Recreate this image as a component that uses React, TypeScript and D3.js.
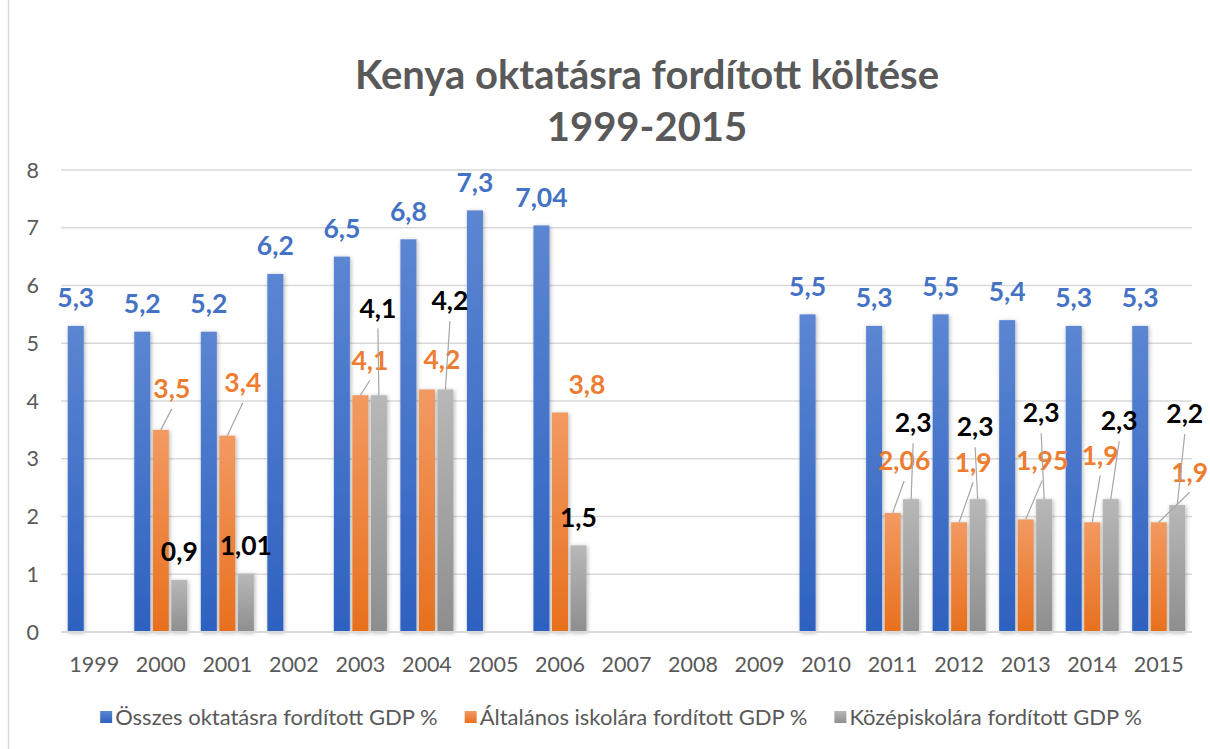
import React, { useEffect, useRef } from "react";
import * as d3 from "d3";

// years on the x axis
const years = ["1999", "2000", "2001", "2002", "2003", "2004", "2005", "2006", "2007", "2008", "2009", "2010", "2011", "2012", "2013", "2014", "2015"];

// GDP % values (null = no data)
const totalGdp = [5.3, 5.2, 5.2, 6.2, 6.5, 6.8, 7.3, 7.04, null, null, null, 5.5, 5.3, 5.5, 5.4, 5.3, 5.3];
const primaryGdp = [null, 3.5, 3.4, null, 4.1, 4.2, null, 3.8, null, null, null, null, 2.06, 1.9, 1.95, 1.9, 1.9];
const secondaryGdp = [null, 0.9, 1.01, null, 4.1, 4.2, null, 1.5, null, null, null, null, 2.3, 2.3, 2.3, 2.3, 2.2];

const seriesNames = ["Összes oktatásra fordított GDP %", "Általános iskolára fordított GDP %", "Középiskolára fordított GDP %"];
const yTicks = [0, 1, 2, 3, 4, 5, 6, 7, 8];

// hand-moved data labels: [dx, dy, leader line] in px from the bar top
const primaryLabelMoves = [null, [11, -41, 1], [15.5, -53, 1], null, [9.5, -35, 1], [15, -29.5, 0], null, [27, -27.5, 0], null, null, null, null, [11.5, -52, 1], [14, -60, 1], [16.5, -59, 1], [8, -67, 1], [31, -50, 1]];
const secondaryLabelMoves = [null, null, null, null, [-1, -87, 1], [4.5, -88.5, 1], null, null, null, null, null, null, [2, -76, 1], [-2.5, -72, 1], [-3, -86, 1], [8.5, -78, 1], [7.5, -91, 1]];

const W = 1210;
const H = 749;
const FONT = "Lato, 'Open Sans', sans-serif";

const App = () => {
    const ref = useRef(null);

    useEffect(() => {
        const svg = d3.select(ref.current);
        svg.selectAll("*").remove();

        const dims = { left: 61, right: 1192, top: 170, bottom: 632 };

        const series = [
            { values: totalGdp, moves: [], grad: ["#5b86d2", "#2e61c0"], labelColor: "#4472C4" },
            { values: primaryGdp, moves: primaryLabelMoves, grad: ["#f29a62", "#e8701d"], labelColor: "#ED7D31" },
            { values: secondaryGdp, moves: secondaryLabelMoves, grad: ["#b8b8b8", "#8e8e8e"], labelColor: "#000000" }
        ];

        const defs = svg.append("defs");
        series.forEach((s, k) => {
            const g = defs.append("linearGradient")
                .attr("id", "grad" + k)
                .attr("x1", 0).attr("y1", 0).attr("x2", 0).attr("y2", 1);
            g.append("stop").attr("offset", "0%").attr("stop-color", s.grad[0]);
            g.append("stop").attr("offset", "100%").attr("stop-color", s.grad[1]);
        });
        const shadow = defs.append("filter").attr("id", "shadow")
            .attr("x", "-50%").attr("y", "-10%").attr("width", "200%").attr("height", "120%");
        shadow.append("feDropShadow")
            .attr("dx", 1).attr("dy", 1).attr("stdDeviation", 2)
            .attr("flood-color", "#000").attr("flood-opacity", 0.3);

        svg.append("rect").attr("width", W).attr("height", H).attr("fill", "#fff");
        // chart frame edge
        svg.append("line")
            .attr("x1", 8.5).attr("x2", 8.5).attr("y1", 0).attr("y2", H)
            .attr("stroke", "#d9d9d9").attr("stroke-width", 1.5);

        const yScale = d3.scaleLinear().domain([0, 8]).range([dims.bottom, dims.top]);

        const x0 = d3.scaleBand()
            .domain(years)
            .range([dims.left, dims.right])
            .paddingInner(0.203)
            .paddingOuter(0.1015);

        const x1 = d3.scaleBand()
            .domain(["0", "1", "2"])
            .range([0, x0.bandwidth()])
            .paddingInner(0.135);

        // gridlines
        svg.append("g")
            .selectAll("line")
            .data(yTicks.filter(t => t > 0))
            .join("line")
            .attr("x1", dims.left).attr("x2", dims.right)
            .attr("y1", d => yScale(d)).attr("y2", d => yScale(d))
            .attr("stroke", "#d9d9d9").attr("stroke-width", 1.3);

        // y tick labels
        svg.append("g")
            .selectAll("text")
            .data(yTicks)
            .join("text")
            .attr("x", 39)
            .attr("y", d => yScale(d))
            .attr("dy", "0.35em")
            .attr("text-anchor", "end")
            .attr("font-family", FONT)
            .attr("font-size", 21.5)
            .attr("fill", "#595959")
            .text(d => d);

        // x tick labels
        svg.append("g")
            .selectAll("text")
            .data(years)
            .join("text")
            .attr("x", d => x0(d) + x0.bandwidth() / 2)
            .attr("y", 664)
            .attr("dy", "0.35em")
            .attr("text-anchor", "middle")
            .attr("font-family", FONT)
            .attr("font-size", 21.5)
            .attr("fill", "#595959")
            .text(d => d);

        // bars
        series.forEach((s, k) => {
            svg.append("g")
                .selectAll("rect")
                .data(years.map((yr, i) => ({ yr, v: s.values[i] })).filter(d => d.v !== null))
                .join("rect")
                .attr("x", d => x0(d.yr) + x1(String(k)))
                .attr("y", d => yScale(d.v))
                .attr("width", x1.bandwidth())
                .attr("height", d => yScale(0) - yScale(d.v))
                .attr("fill", `url(#grad${k})`)
                .attr("filter", "url(#shadow)");
        });

        // axis line
        svg.append("line")
            .attr("x1", dims.left).attr("x2", dims.right)
            .attr("y1", yScale(0)).attr("y2", yScale(0))
            .attr("stroke", "#d9d9d9").attr("stroke-width", 2);

        // data labels
        const labels = svg.append("g");
        series.forEach((s, k) => {
            years.forEach((yr, i) => {
                const v = s.values[i];
                if (v === null) return;
                const bx = x0(yr) + x1(String(k)) + x1.bandwidth() / 2;
                const by = yScale(v);
                const m = s.moves[i] || [0, -28, 0];
                const lx = bx + m[0];
                const ly = by + m[1];
                if (m[2]) {
                    labels.append("line")
                        .attr("x1", lx).attr("y1", ly + 20)
                        .attr("x2", bx).attr("y2", by)
                        .attr("stroke", "#a6a6a6").attr("stroke-width", 1.2);
                }
                labels.append("text")
                    .attr("x", lx)
                    .attr("y", ly)
                    .attr("dy", "0.35em")
                    .attr("text-anchor", "middle")
                    .attr("font-family", FONT)
                    .attr("font-weight", "bold")
                    .attr("font-size", 26.5)
                    .attr("fill", s.labelColor)
                    .text(String(v).replace(".", ","));
            });
        });

        // title
        const title = svg.append("text")
            .attr("text-anchor", "middle")
            .attr("font-family", FONT)
            .attr("font-weight", "bold")
            .attr("font-size", 40)
            .attr("fill", "#595959");
        title.append("tspan").attr("x", 647).attr("y", 89).text("Kenya oktatásra fordított költése");
        title.append("tspan").attr("x", 647).attr("y", 141).text("1999-2015");

        // legend
        const legend = svg.append("g");
        const items = seriesNames.map((name, k) => {
            const g = legend.append("g");
            g.append("rect")
                .attr("x", 0).attr("y", -6)
                .attr("width", 12).attr("height", 12)
                .attr("fill", `url(#grad${k})`);
            const t = g.append("text")
                .attr("x", 15)
                .attr("dy", "0.35em")
                .attr("font-family", FONT)
                .attr("font-size", 22)
                .attr("fill", "#595959")
                .text(name);
            const len = t.node().getComputedTextLength();
            return { g, w: 15 + len };
        });
        const gap = 27;
        const total = d3.sum(items, d => d.w) + gap * (items.length - 1);
        let cx = 621 - total / 2;
        items.forEach(it => {
            it.g.attr("transform", `translate(${cx},717)`);
            cx += it.w + gap;
        });
    }, []);

    return (
        <svg
            ref={ref}
            width={W}
            height={H}
            style={{ position: "absolute", left: 0, top: 0 }}
        />
    );
};

export default App;
